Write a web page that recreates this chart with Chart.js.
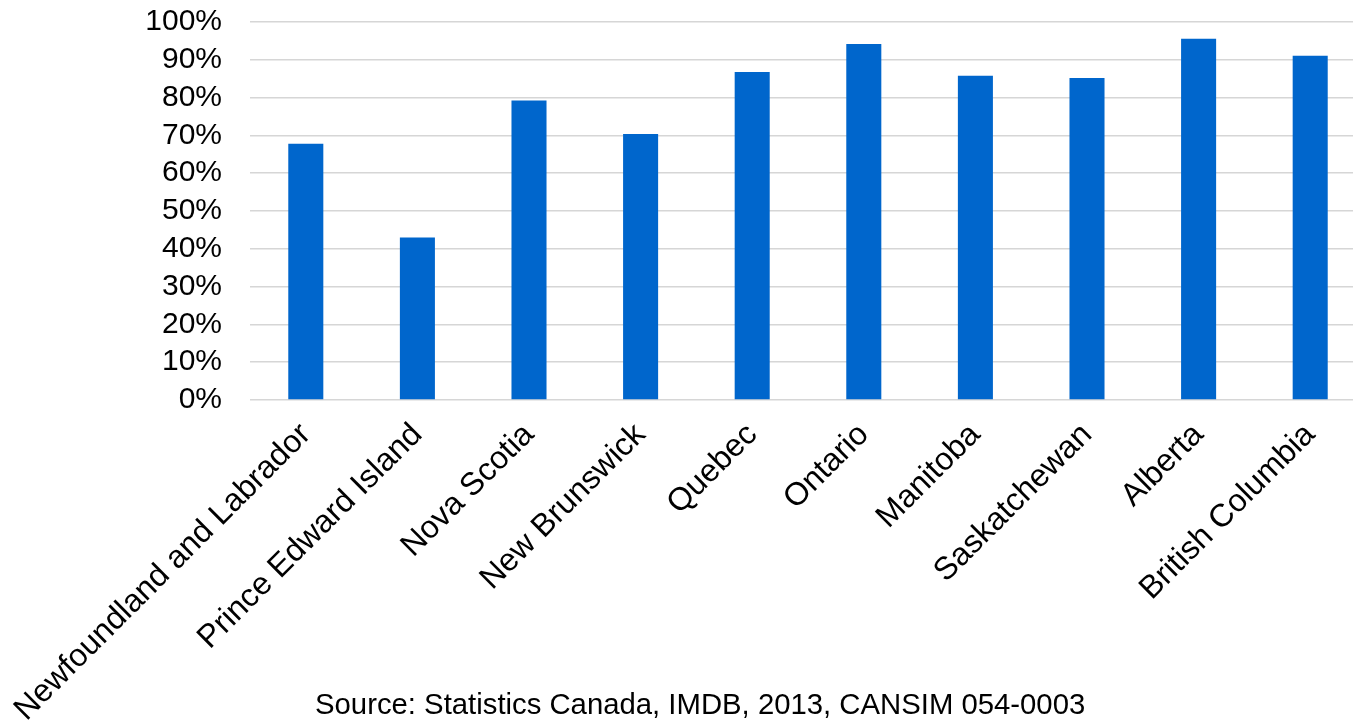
<!DOCTYPE html>
<html>
<head>
<meta charset="utf-8">
<script src="https://cdn.jsdelivr.net/npm/chart.js@4/dist/chart.umd.min.js"></script>
<style>
  html, body { margin: 0; padding: 0; background: #fff; overflow: hidden; width: 1353px; height: 723px; }
  #wrap { position: absolute; left: 0; top: 0; width: 1366px; height: 723px; }
  #src { position: absolute; left: 315px; top: 690px; font-family: "Liberation Sans", Arial, sans-serif; font-size: 29.3px; line-height: 28px; color: #000; white-space: nowrap; }
</style>
</head>
<body>
<div id="wrap"><canvas id="c"></canvas></div>
<div id="src">Source: Statistics Canada, IMDB, 2013, CANSIM 054-0003</div>
<script>
const provinces = ["Newfoundland and Labrador", "Prince Edward Island", "Nova Scotia", "New Brunswick", "Quebec", "Ontario", "Manitoba", "Saskatchewan", "Alberta", "British Columbia"];
const shares = [0.678, 0.430, 0.792, 0.704, 0.868, 0.942, 0.858, 0.852, 0.956, 0.911];
const yTicks = [0, 0.1, 0.2, 0.3, 0.4, 0.5, 0.6, 0.7, 0.8, 0.9, 1.0];

const FONT = "'Liberation Sans', Arial, sans-serif";

new Chart(document.getElementById('c'), {
  type: 'bar',
  data: {
    labels: provinces,
    datasets: [{
      data: shares,
      backgroundColor: '#0066cc',
      borderWidth: 0,
      barPercentage: 0.314,
      categoryPercentage: 1.0
    }]
  },
  options: {
    responsive: true,
    maintainAspectRatio: false,
    animation: false,
    layout: { padding: { top: 22, left: 0, right: 0, bottom: 0 } },
    plugins: { legend: { display: false }, tooltip: { enabled: false } },
    scales: {
      x: {
        grid: { display: false },
        border: { display: false },
        ticks: {
          color: '#000',
          font: { family: FONT, size: 32 },
          minRotation: 45,
          maxRotation: 45,
          autoSkip: false,
          padding: 8
        },
        afterFit: (s) => { s.height = 323; s.paddingLeft = 0; s.paddingRight = 0; }
      },
      y: {
        min: 0,
        max: 1,
        afterBuildTicks: (s) => { s.ticks = yTicks.map(v => ({ value: v })); },
        grid: { color: '#d6d6d6', lineWidth: 1.5, drawTicks: false },
        border: { display: false },
        ticks: {
          color: '#000',
          font: { family: FONT, size: 30 },
          padding: 28,
          autoSkip: false,
          callback: (v) => Math.round(v * 100) + '%'
        },
        afterFit: (s) => { s.width = 250; s.paddingTop = 0; s.paddingBottom = 0; }
      }
    }
  }
});
</script>
</body>
</html>
